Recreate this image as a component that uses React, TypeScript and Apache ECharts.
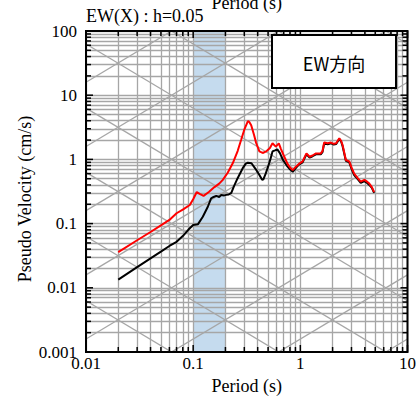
import React, { useEffect, useRef } from "react";
import * as echarts from "echarts";

// ---- data ----
const redPeriods = [0.02, 0.03, 0.04, 0.05, 0.06, 0.07, 0.08, 0.093, 0.1, 0.108, 0.115, 0.125, 0.14, 0.158, 0.175, 0.189, 0.21, 0.234, 0.26, 0.28, 0.3, 0.324, 0.335, 0.348, 0.37, 0.387, 0.415, 0.445, 0.48, 0.52, 0.55, 0.59, 0.63, 0.66, 0.7, 0.76, 0.8, 0.85, 0.91, 0.97, 1.05, 1.14, 1.22, 1.3, 1.4, 1.55, 1.61, 1.67, 1.8, 1.93, 2.05, 2.16, 2.31, 2.4, 2.48, 2.66, 2.86, 3.0, 3.18, 3.4, 3.66, 3.96, 4.2, 4.4, 4.65, 4.88];
const redValues = [0.036, 0.055, 0.074, 0.094, 0.114, 0.145, 0.165, 0.195, 0.24, 0.31, 0.29, 0.27, 0.31, 0.37, 0.42, 0.48, 0.62, 0.87, 1.35, 2.0, 2.9, 3.95, 3.8, 3.4, 2.4, 1.8, 1.33, 1.26, 1.33, 1.5, 1.78, 1.58, 1.78, 1.45, 1.15, 0.85, 0.75, 0.68, 0.77, 0.85, 0.93, 1.24, 1.1, 1.15, 1.24, 1.24, 1.35, 1.83, 1.78, 1.83, 1.75, 1.78, 2.13, 1.95, 1.67, 0.98, 0.93, 0.75, 0.6, 0.52, 0.45, 0.48, 0.45, 0.42, 0.37, 0.31];

const blackPeriods = [0.02, 0.03, 0.04, 0.05, 0.06, 0.07, 0.08, 0.09, 0.1, 0.111, 0.123, 0.137, 0.147, 0.155, 0.164, 0.175, 0.183, 0.195, 0.204, 0.215, 0.227, 0.24, 0.26, 0.29, 0.31, 0.324, 0.35, 0.38, 0.415, 0.44, 0.452, 0.475, 0.5, 0.525, 0.55, 0.58, 0.61, 0.645, 0.684, 0.72, 0.76, 0.8, 0.85, 0.91, 0.97, 1.05, 1.14, 1.22, 1.3, 1.4, 1.55, 1.61, 1.67, 1.8, 1.93, 2.05, 2.16, 2.31, 2.4, 2.48, 2.66, 2.86, 3.0, 3.18, 3.4, 3.66, 3.96, 4.2, 4.4, 4.65, 4.88];
const blackValues = [0.0134, 0.021, 0.0288, 0.0367, 0.0448, 0.052, 0.064, 0.08, 0.095, 0.098, 0.128, 0.183, 0.248, 0.26, 0.27, 0.26, 0.28, 0.275, 0.28, 0.285, 0.3, 0.38, 0.51, 0.73, 0.86, 0.89, 0.87, 0.72, 0.57, 0.48, 0.49, 0.6, 0.77, 1.0, 1.33, 1.38, 1.43, 1.25, 1.0, 0.88, 0.77, 0.7, 0.64, 0.74, 0.83, 0.9, 1.2, 1.07, 1.12, 1.2, 1.2, 1.3, 1.78, 1.72, 1.78, 1.7, 1.74, 2.08, 1.9, 1.6, 0.95, 0.9, 0.72, 0.57, 0.5, 0.43, 0.46, 0.43, 0.4, 0.36, 0.3];

const xTickLabels = [0.01, 0.1, 1, 10];
const yTickLabels = [0.001, 0.01, 0.1, 1, 10, 100];
const bandRange = [0.1, 0.2];
const displacementLevels = [1e-5, 1e-4, 1e-3, 1e-2, 1e-1, 1, 10, 100]; // cm
const accelerationLevels = [1e-3, 1e-2, 1e-1, 1, 10, 100, 1000, 10000]; // cm/s^2
const titleText = "EW(X) : h=0.05";
const legendText = "EW方向";
const xName = "Period (s)";
const yName = "Pseudo Velocity (cm/s)";

const X_MIN = 0.01, X_MAX = 10, Y_MIN = 0.001, Y_MAX = 100;
const SERIF = "'Liberation Serif', 'Times New Roman', serif";
const GRID_COLOR = "#a6a6a6";

function minorValues(min: number, max: number) {
  const out: number[] = [];
  for (let d = min; d < max * 0.999; d *= 10) {
    for (let m = 1; m <= 9; m++) out.push(+(d * m).toPrecision(6));
  }
  out.push(max);
  return out;
}
function fmt(v: number) {
  return String(+(+v).toPrecision(6));
}

export default function App() {
  const ref = useRef<HTMLDivElement>(null);
  useEffect(() => {
    document.body.style.margin = "0";
    const chart = echarts.init(ref.current!, undefined, { renderer: "svg" });
    const xs = minorValues(X_MIN, X_MAX);
    const ys = minorValues(Y_MIN, Y_MAX);
    const TWO_PI = 2 * Math.PI;

    const gridSegments: any[] = [
      ...xs.map((v) => ({ coords: [[v, Y_MIN], [v, Y_MAX]] })),
      ...ys.map((v) => ({ coords: [[X_MIN, v], [X_MAX, v]] })),
    ];

    const diagSeries: any[] = [];
    displacementLevels.forEach((d) => {
      diagSeries.push({
        type: "line", silent: true, symbol: "none", z: 2, clip: true,
        lineStyle: { color: GRID_COLOR, width: 1.3 },
        data: [[X_MIN, (TWO_PI * d) / X_MIN], [X_MAX, (TWO_PI * d) / X_MAX]],
      });
    });
    accelerationLevels.forEach((a) => {
      diagSeries.push({
        type: "line", silent: true, symbol: "none", z: 2, clip: true,
        lineStyle: { color: GRID_COLOR, width: 1.3 },
        data: [[X_MIN, (a * X_MIN) / TWO_PI], [X_MAX, (a * X_MAX) / TWO_PI]],
      });
    });

    const option: any = {
      animation: false,
      grid: { left: 86, top: 31, right: 11, bottom: 44, show: false },
      xAxis: {
        type: "log", logBase: 10, min: X_MIN, max: X_MAX,
        axisLine: { show: false }, axisTick: { show: false }, splitLine: { show: false },
        axisLabel: {
          fontFamily: SERIF, fontSize: 17, color: "#000", margin: 3,
          formatter: (v: number) => (xTickLabels.some((t) => Math.abs(t - v) / t < 1e-6) ? fmt(v) : ""),
        },
      },
      yAxis: {
        type: "log", logBase: 10, min: Y_MIN, max: Y_MAX,
        axisLine: { show: false }, axisTick: { show: false }, splitLine: { show: false },
        axisLabel: {
          fontFamily: SERIF, fontSize: 17, color: "#000", margin: 9,
          formatter: (v: number) => (yTickLabels.some((t) => Math.abs(t - v) / t < 1e-6) ? fmt(v) : ""),
        },
      },
      series: [
        {
          type: "line", silent: true, symbol: "none", z: 1,
          lineStyle: { width: 0, opacity: 0 },
          areaStyle: { color: "#c5dbee", opacity: 1, origin: "start" },
          data: [[bandRange[0], Y_MAX], [bandRange[1], Y_MAX]],
        },
        {
          type: "lines", coordinateSystem: "cartesian2d", silent: true, z: 2,
          lineStyle: { color: GRID_COLOR, width: 1.3, opacity: 1 },
          data: gridSegments,
        },
        ...diagSeries,
        {
          name: "black", type: "line", symbol: "none", z: 3,
          lineStyle: { color: "#000", width: 2 },
          data: blackPeriods.map((t, i) => [t, blackValues[i]]),
        },
        {
          name: "red", type: "line", symbol: "none", z: 4,
          lineStyle: { color: "#ff0000", width: 2 },
          data: redPeriods.map((t, i) => [t, redValues[i]]),
        },
      ],
    };
    chart.setOption(option);

    // graphic overlay computed through the chart's own scales
    const p = (x: number, y: number) => chart.convertToPixel({ gridIndex: 0 }, [x, y]) as number[];
    const [left, bottom] = p(X_MIN, Y_MIN);
    const [right, top] = p(X_MAX, Y_MAX);
    const g: any[] = [];
    const isMajor = (v: number) => Math.abs(Math.log10(v) - Math.round(Math.log10(v))) < 1e-6;
    xs.forEach((v) => {
      const x = p(v, Y_MIN)[0];
      const len = isMajor(v) ? 7 : 5;
      g.push({ type: "line", z: 50, silent: true, shape: { x1: x, y1: bottom, x2: x, y2: bottom - len }, style: { stroke: "#000", lineWidth: 1.5 } });
      g.push({ type: "line", z: 50, silent: true, shape: { x1: x, y1: top, x2: x, y2: top + len }, style: { stroke: "#000", lineWidth: 1.5 } });
    });
    ys.forEach((v) => {
      const y = p(X_MIN, v)[1];
      const len = isMajor(v) ? 7 : 5;
      g.push({ type: "line", z: 50, silent: true, shape: { x1: left, y1: y, x2: left + len, y2: y }, style: { stroke: "#000", lineWidth: 1.5 } });
      g.push({ type: "line", z: 50, silent: true, shape: { x1: right, y1: y, x2: right - len, y2: y }, style: { stroke: "#000", lineWidth: 1.5 } });
    });
    g.push({ type: "rect", z: 60, silent: true, shape: { x: left, y: top, width: right - left, height: bottom - top }, style: { fill: "none", stroke: "#000", lineWidth: 2 } });
    // legend box
    g.push({ type: "rect", z: 70, silent: true, shape: { x: 272, y: 35, width: 124, height: 53 }, style: { fill: "#fff", stroke: "#000", lineWidth: 2 } });
    g.push({ type: "text", z: 71, silent: true, x: 334, y: 63, style: { text: legendText, font: "18px 'Noto Sans CJK JP'", fill: "#000", align: "center", verticalAlign: "middle" } });
    // titles
    g.push({ type: "text", z: 71, silent: true, x: left, y: 16, style: { text: titleText, font: `18px ${SERIF}`, fill: "#000", align: "left", verticalAlign: "middle" } });
    g.push({ type: "text", z: 71, silent: true, x: (left + right) / 2, y: 3, style: { text: xName, font: `18px ${SERIF}`, fill: "#000", align: "center", verticalAlign: "middle" } });
    g.push({ type: "text", z: 71, silent: true, x: (left + right) / 2, y: 386, style: { text: xName, font: `18px ${SERIF}`, fill: "#000", align: "center", verticalAlign: "middle" } });
    g.push({ type: "text", z: 71, silent: true, x: 25, y: 199, rotation: Math.PI / 2, style: { text: yName, font: `18px ${SERIF}`, fill: "#000", align: "center", verticalAlign: "middle" } });
    chart.setOption({ graphic: g });

    return () => chart.dispose();
  }, []);
  return <div ref={ref} style={{ position: "absolute", left: 0, top: 0, width: 419, height: 396 }} />;
}
